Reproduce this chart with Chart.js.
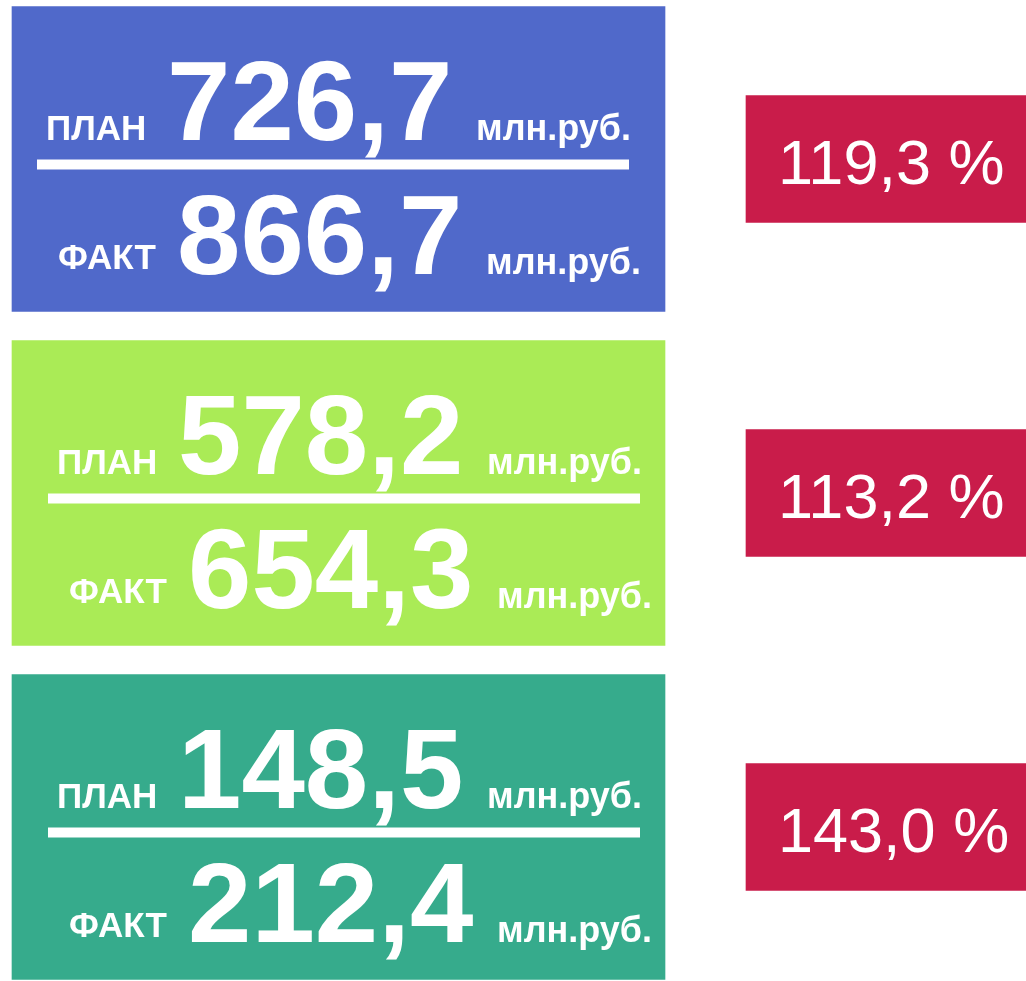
<!DOCTYPE html>
<html>
<head>
<meta charset="utf-8">
<script src="https://cdn.jsdelivr.net/npm/chart.js@4/dist/chart.umd.min.js"></script>
<style>
  html, body { margin: 0; padding: 0; background: #fff; overflow: hidden; }
  body { width: 1026px; height: 981px; position: relative; }
  #wrap { position: absolute; left: 0; top: -8px; width: 1026px; height: 1002px; }
</style>
</head>
<body>
<div id="wrap"><canvas id="myChart"></canvas></div>
<script>
var rows = ['Блок 1', 'Блок 2', 'Блок 3'];
var planValues = [726.7, 578.2, 148.5];
var factValues = [866.7, 654.3, 212.4];
var percentValues = [119.3, 113.2, 143.0];
var planLabel = 'ПЛАН';
var factLabel = 'ФАКТ';
var unitLabel = 'млн.руб.';

var panelColors = ['#5069CA', '#AAEB56', '#36AB8C'];
var badgeColor = '#C91C4A';

// horizontal extent of the panels and badges on the x scale
var PANEL = [12, 665];
var BADGE = [746, 1026];
// first panel has its text a bit more to the left
var shift = [-11, 0, 0];

function fmt(v) {
  return v.toFixed(1).replace('.', ',');
}

var cardText = {
  id: 'cardText',
  afterDatasetsDraw: function(chart) {
    var ctx = chart.ctx;
    var panels = chart.getDatasetMeta(0).data;
    var badges = chart.getDatasetMeta(1).data;
    ctx.save();
    ctx.fillStyle = '#fff';
    ctx.textAlign = 'left';
    ctx.textBaseline = 'alphabetic';
    for (var i = 0; i < rows.length; i++) {
      var p = panels[i].getProps(['x', 'y', 'base', 'height'], true);
      var L = p.base + shift[i];
      var T = p.y - p.height / 2;

      ctx.font = 'bold 35px "Liberation Sans", Arial, sans-serif';
      ctx.fillText(planLabel, L + 45, T + 133);
      ctx.fillText(factLabel, L + 57, T + 262);
      ctx.font = 'bold 36px "Liberation Sans", Arial, sans-serif';
      ctx.fillText(unitLabel, L + 475, T + 133);
      ctx.fillText(unitLabel, L + 485, T + 267);

      ctx.font = 'bold 114px "Liberation Sans", Arial, sans-serif';
      ctx.fillText(fmt(planValues[i]), L + 166, T + 133);
      ctx.fillText(fmt(factValues[i]), L + 176, T + 267);

      ctx.fillRect(L + 36, T + 153, 592, 10);

      var b = badges[i].getProps(['x', 'y', 'base', 'height'], true);
      ctx.font = '63px "Liberation Sans", Arial, sans-serif';
      ctx.fillText(fmt(percentValues[i]) + ' %', b.base + 32, b.y + 25);
    }
    ctx.restore();
  }
};

new Chart('myChart', {
  type: 'bar',
  data: {
    labels: rows,
    datasets: [{
      data: rows.map(function() { return PANEL; }),
      backgroundColor: panelColors,
      barThickness: 305,
      grouped: false
    }, {
      data: rows.map(function() { return BADGE; }),
      backgroundColor: badgeColor,
      barThickness: 127,
      grouped: false
    }]
  },
  options: {
    indexAxis: 'y',
    responsive: true,
    maintainAspectRatio: false,
    animation: false,
    layout: { padding: 0 },
    scales: {
      x: { type: 'linear', min: 0, max: 1026, display: false },
      y: { display: false, offset: true }
    },
    plugins: {
      legend: { display: false },
      tooltip: { enabled: false }
    }
  },
  plugins: [cardText]
});
</script>
</body>
</html>
